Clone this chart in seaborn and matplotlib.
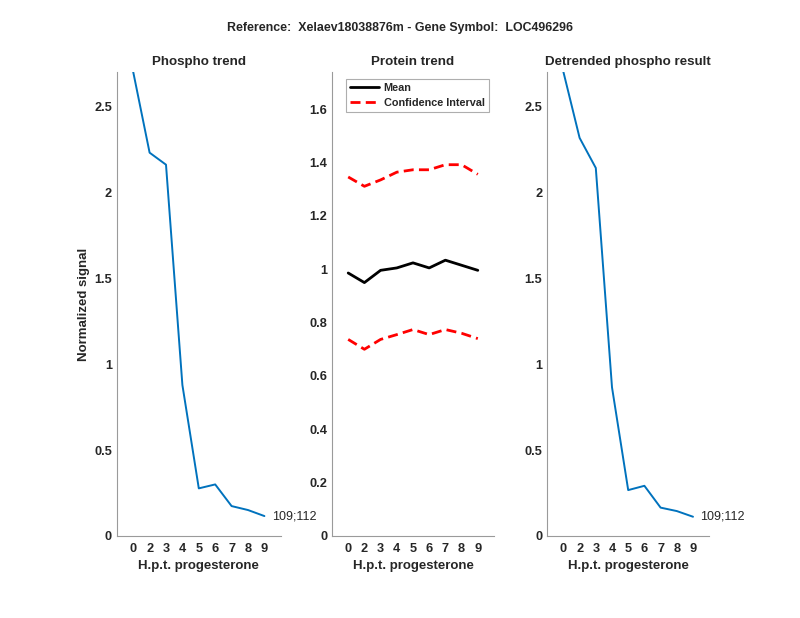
import numpy as np
import pandas as pd
import matplotlib
matplotlib.use('Agg')
import matplotlib.pyplot as plt
import seaborn as sns
from matplotlib.ticker import FuncFormatter

# ── data ───────────────────────────────────────────────────────────
timepoints = ['0', '2', '3', '4', '5', '6', '7', '8', '9']
phospho = [2.70, 2.23, 2.16, 0.878, 0.277, 0.300, 0.174, 0.151, 0.116]
protein_mean = [0.986, 0.950, 0.996, 1.005, 1.024, 1.005, 1.034, 1.015, 0.996]
protein_upper = [1.346, 1.311, 1.335, 1.364, 1.373, 1.373, 1.392, 1.392, 1.356]
protein_lower = [0.737, 0.700, 0.737, 0.755, 0.774, 0.755, 0.774, 0.760, 0.740]
detrended = [2.70, 2.316, 2.141, 0.865, 0.267, 0.292, 0.165, 0.145, 0.112]
peptide_label = '109;112'
suptitle = 'Reference:  Xelaev18038876m - Gene Symbol:  LOC496296'

# ── setup ──────────────────────────────────────────────────────────
sns.set_style('white')
plt.rcParams['font.family'] = ['Liberation Sans', 'DejaVu Sans']
plt.rcParams['font.weight'] = 'bold'

AX_COL = '#9a9a9a'
TXT_COL = '#262626'
BLUE = '#0072BD'

df = pd.DataFrame({
    'pos': np.arange(1, len(timepoints) + 1),
    'phospho': phospho,
    'mean': protein_mean,
    'upper': protein_upper,
    'lower': protein_lower,
    'detrended': detrended,
})

fig = plt.figure(figsize=(8, 6.18), dpi=100)
ax1 = fig.add_axes([0.146, 0.1327, 0.205, 0.751])
ax2 = fig.add_axes([0.415, 0.1327, 0.2025, 0.751])
ax3 = fig.add_axes([0.684, 0.1327, 0.2025, 0.751])

fmt = FuncFormatter(lambda v, p: f'{v:g}')


def style_axis(ax, title):
    for s in ['top', 'right']:
        ax.spines[s].set_visible(False)
    for s in ['left', 'bottom']:
        ax.spines[s].set_color(AX_COL)
        ax.spines[s].set_linewidth(0.8)
    ax.set_xlim(0, len(timepoints) + 1)
    ax.set_xticks(df['pos'])
    ax.set_xticklabels(timepoints)
    ax.tick_params(direction='in', length=4, width=0.8, color=AX_COL,
                   labelcolor=TXT_COL, labelsize=9.2)
    ax.tick_params(axis='x', pad=5)
    ax.tick_params(axis='y', pad=3.5)
    ax.yaxis.set_major_formatter(fmt)
    ax.set_title(title, fontsize=9.6, fontweight='bold', pad=5)
    ax.set_xlabel('H.p.t. progesterone', fontsize=9.5,
                  fontweight='bold', color=TXT_COL, labelpad=4)
    ax.set_ylabel('')


# ── 1. phospho trend ───────────────────────────────────────────────
sns.lineplot(data=df, x='pos', y='phospho', color=BLUE,
             linewidth=1.4, ax=ax1)
ax1.set_ylim(0, max(phospho))
ax1.set_yticks([0, 0.5, 1, 1.5, 2, 2.5])
style_axis(ax1, 'Phospho trend')
ax1.set_ylabel('Normalized signal', fontsize=9.5, fontweight='bold',
               color=TXT_COL, labelpad=3)
ax1.text(df['pos'].iloc[-1] + 0.45, phospho[-1], peptide_label,
         fontsize=9, fontweight='normal', va='center', ha='left',
         clip_on=False)

# ── 2. protein trend ───────────────────────────────────────────────
sns.lineplot(data=df, x='pos', y='mean', color='black',
             linewidth=2, ax=ax2, label='Mean')
sns.lineplot(data=df, x='pos', y='upper', color='red',
             linewidth=2, ax=ax2, label='Confidence Interval')
sns.lineplot(data=df, x='pos', y='lower', color='red',
             linewidth=2, ax=ax2)
for ln in ax2.lines[1:]:
    ln.set_dashes([3.6, 1.9])
ax2.set_ylim(0, 1.25 * max(protein_upper))
ax2.set_yticks(np.arange(0, 1.7, 0.2))
style_axis(ax2, 'Protein trend')
leg = ax2.legend(loc='upper left', bbox_to_anchor=(0.085, 0.985),
                 fontsize=7.8, frameon=True, fancybox=False,
                 handlelength=2.7, borderpad=0.4, labelspacing=0.4,
                 handletextpad=0.4, borderaxespad=0)
leg.get_frame().set_edgecolor(AX_COL)
leg.get_frame().set_linewidth(0.8)
for t in leg.get_texts():
    t.set_fontweight('bold')
for h in leg.get_lines()[1:]:
    h.set_dashes([3.6, 1.9])

# ── 3. detrended phospho ───────────────────────────────────────────
sns.lineplot(data=df, x='pos', y='detrended', color=BLUE,
             linewidth=1.4, ax=ax3)
ax3.set_ylim(0, max(detrended))
ax3.set_yticks([0, 0.5, 1, 1.5, 2, 2.5])
style_axis(ax3, 'Detrended phospho result')
ax3.text(df['pos'].iloc[-1] + 0.45, detrended[-1], peptide_label,
         fontsize=9, fontweight='normal', va='center', ha='left',
         clip_on=False)

fig.suptitle(suptitle, fontsize=8.9, fontweight='bold', y=0.955,
             va='center')

plt.savefig('out.png', dpi=100)
